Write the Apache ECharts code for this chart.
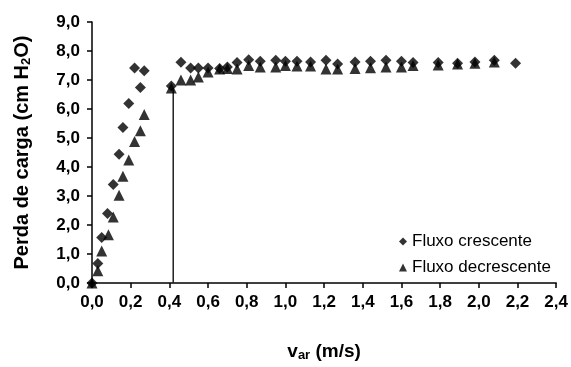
<!DOCTYPE html>
<html>
<head>
<meta charset="utf-8">
<script src="https://cdn.jsdelivr.net/npm/echarts@6/dist/echarts.min.js"></script>
<style>
  html, body { margin: 0; padding: 0; background: #fff; }
  #chart { width: 571px; height: 367px; }
</style>
</head>
<body>
<div id="chart"></div>
<script>
// Fluxo crescente (diamonds)
const crescX = [0, 0.03, 0.05, 0.08, 0.11, 0.14, 0.16, 0.19, 0.22, 0.25, 0.27, 0.41, 0.46, 0.51, 0.55, 0.60, 0.66, 0.70, 0.75, 0.81, 0.87, 0.95, 1.00, 1.06, 1.13, 1.21, 1.27, 1.36, 1.44, 1.52, 1.60, 1.66, 1.79, 1.89, 1.98, 2.08, 2.19];
const crescY = [0, 0.67, 1.57, 2.4, 3.4, 4.44, 5.36, 6.19, 7.41, 6.74, 7.32, 6.79, 7.61, 7.41, 7.41, 7.41, 7.4, 7.45, 7.6, 7.7, 7.65, 7.68, 7.65, 7.65, 7.62, 7.68, 7.55, 7.62, 7.65, 7.68, 7.65, 7.6, 7.6, 7.58, 7.62, 7.68, 7.58];

// Fluxo decrescente (triangles)
const decrescX = [0, 0.03, 0.05, 0.085, 0.11, 0.14, 0.16, 0.19, 0.22, 0.25, 0.27, 0.41, 0.46, 0.51, 0.55, 0.60, 0.66, 0.70, 0.75, 0.81, 0.87, 0.95, 1.00, 1.06, 1.13, 1.21, 1.27, 1.36, 1.44, 1.52, 1.60, 1.66, 1.79, 1.89, 1.98, 2.08];
const decrescY = [0, 0.42, 1.1, 1.66, 2.28, 3.03, 3.68, 4.24, 4.88, 5.25, 5.81, 6.72, 7.0, 7.0, 7.1, 7.28, 7.38, 7.4, 7.38, 7.5, 7.45, 7.45, 7.5, 7.48, 7.48, 7.38, 7.38, 7.4, 7.42, 7.45, 7.45, 7.5, 7.52, 7.55, 7.58, 7.62];

// vertical marker line
const lineX = [0.42, 0.42];
const lineY = [0, 6.72];

const seriesNames = ['Fluxo crescente', 'Fluxo decrescente'];

const pairs = (xs, ys) => xs.map((x, i) => [x, ys[i]]);
const fmt = v => v.toFixed(1).replace('.', ',');

const chart = echarts.init(document.getElementById('chart'));

const FONT = 'Liberation Sans, Arial, sans-serif';
const labelFont = { color: '#000', fontFamily: FONT, fontWeight: 'bold', fontSize: 17 };

const option = {
  animation: false,
  backgroundColor: '#fff',
  grid: { left: 92, right: 13, top: 22, bottom: 77 },
  legend: {
    data: seriesNames,
    orient: 'vertical',
    left: 394,
    top: 228,
    itemWidth: 8,
    itemHeight: 8,
    itemGap: 9,
    textStyle: { color: '#000', fontFamily: FONT, fontSize: 17 }
  },
  xAxis: {
    type: 'value',
    min: 0,
    max: 2.4,
    interval: 0.2,
    name: 'v{sub|ar} (m/s)',
    nameLocation: 'middle',
    nameGap: 58,
    nameTextStyle: {
      color: '#000', fontFamily: FONT, fontWeight: 'bold', fontSize: 19,
      rich: { sub: { fontSize: 13, fontWeight: 'bold', verticalAlign: 'bottom', padding: [8, 0, 0, 0], fontFamily: FONT } }
    },
    axisLine: { lineStyle: { color: '#000', width: 1.5 } },
    axisTick: { inside: false, length: 5, lineStyle: { color: '#000', width: 1.5 } },
    axisLabel: Object.assign({ formatter: fmt, margin: 11 }, labelFont),
    splitLine: { show: false }
  },
  yAxis: {
    type: 'value',
    min: 0,
    max: 9,
    interval: 1,
    name: 'Perda de carga (cm H{sub|2}O)',
    nameLocation: 'middle',
    nameRotate: 90,
    nameGap: 59,
    nameTextStyle: {
      color: '#000', fontFamily: FONT, fontWeight: 'bold', fontSize: 20,
      rich: { sub: { fontSize: 13, fontWeight: 'bold', verticalAlign: 'bottom', padding: [8, 0, 0, 0], fontFamily: FONT } }
    },
    axisLine: { show: true, lineStyle: { color: '#000', width: 1.5 } },
    axisTick: { show: true, inside: false, length: 5, lineStyle: { color: '#000', width: 1.5 } },
    axisLabel: Object.assign({ formatter: fmt, margin: 12 }, labelFont),
    splitLine: { show: false }
  },
  series: [
    {
      name: 'marker line',
      type: 'line',
      data: pairs(lineX, lineY),
      symbol: 'none',
      lineStyle: { color: '#222', width: 1.5 },
      z: 1
    },
    {
      name: seriesNames[0],
      type: 'scatter',
      data: pairs(crescX, crescY),
      symbol: 'diamond',
      symbolSize: 11,
      itemStyle: { color: '#000' },
      z: 3
    },
    {
      name: seriesNames[1],
      type: 'scatter',
      data: pairs(decrescX, decrescY),
      symbol: 'triangle',
      symbolSize: 11,
      itemStyle: { color: '#000' },
      z: 2
    }
  ]
};

chart.setOption(option);
</script>
</body>
</html>
